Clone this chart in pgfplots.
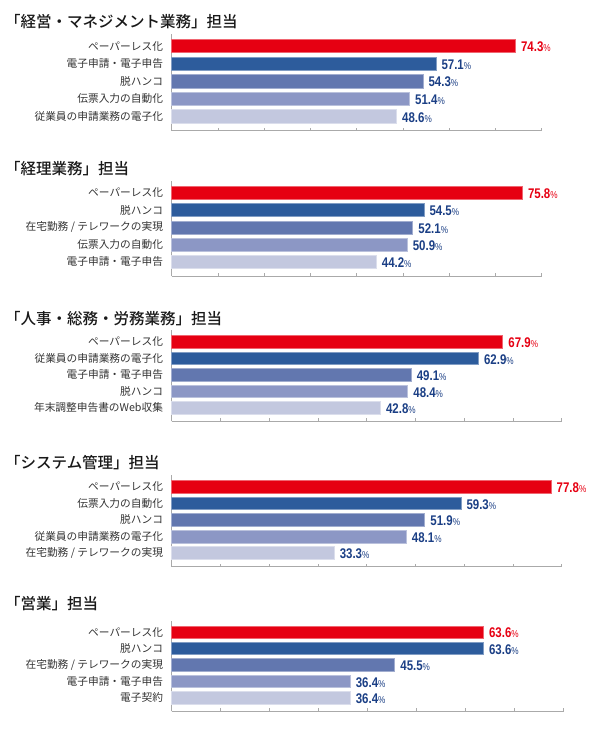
\documentclass[border=0pt]{standalone}
\usepackage{fontspec}
\usepackage{pgfplots}
\pgfplotsset{compat=1.18}
\newfontfamily\cjk{Noto Sans CJK JP}
\newfontfamily\cjkt{Noto Sans CJK JP Medium}
\newfontfamily\numfont[FakeStretch=0.82]{Liberation Sans}
\definecolor{cRed}{HTML}{E60012}
\definecolor{cB1}{HTML}{2D5C9C}
\definecolor{cB2}{HTML}{6277AF}
\definecolor{cB3}{HTML}{8C97C5}
\definecolor{cB4}{HTML}{C3C8DF}
\definecolor{cNavy}{HTML}{1B3F85}
\definecolor{cAx}{HTML}{AAAAAA}
\pgfplotsset{
  grp/.style={
    xbar, bar shift=0pt,
    scale only axis,
    xmin=0, xmax=80, ymin=0.18, ymax=5.7,
    axis x line*=bottom, axis y line*=left,
    axis line style={draw=cAx, line width=0.7pt},
    xtick={0,10,...,80}, xticklabels={},
    major tick length=3pt,
    xtick style={draw=cAx, line width=0.7pt},
    tick align=inside,
    ytick={1,2,3,4,5},
    ytick style={draw=none},
    yticklabel style={font=\cjk\fontsize{10.7}{12}\selectfont, text=black!80, inner sep=0pt, anchor=east, xshift=-8.5pt},
    anchor=south west,
    point meta=x,
    /pgf/number format/assume math mode=true,
    nodes near coords={\bfseries\pgfmathprintnumber[fixed,fixed zerofill,precision=1]{\pgfplotspointmeta}{\mdseries\fontsize{10}{10}\selectfont\%}},
    nodes near coords style={anchor=base west, font=\numfont\fontsize{14}{14}\selectfont, text=cNavy, inner sep=0pt, xshift=5.5pt, yshift=-5.8pt},
    clip=false,
  },
  b0/.style={fill=cRed, draw=cRed!60!white, line width=0.5pt, every node near coord/.append style={text=cRed}},
  b1/.style={fill=cB1, draw=cB1!60!white, line width=0.5pt},
  b2/.style={fill=cB2, draw=cB2!60!white, line width=0.5pt},
  b3/.style={fill=cB3, draw=cB3!60!white, line width=0.5pt},
  b4/.style={fill=cB4, draw=cB4!60!white, line width=0.5pt},
}
\begin{document}
\begin{tikzpicture}
\useasboundingbox (0pt,0pt) rectangle (600pt,-740pt);
\tikzset{ttl/.style={anchor=west, inner sep=0pt, font=\cjkt\fontsize{15.5}{16}\selectfont, text=black!90}}

% Group 1
\node[ttl] at (5pt,-22pt) {「経営・マネジメント業務」担当};
\begin{axis}[grp, at={(171.7pt,-130.7pt)}, width=370pt, height=97pt, bar width=13.3pt,
  yticklabels={従業員の申請業務の電子化, 伝票入力の自動化, 脱ハンコ, 電子申請・電子申告, ペーパーレス化}]
\addplot[b0] coordinates {(74.3,5)};
\addplot[b1] coordinates {(57.1,4)};
\addplot[b2] coordinates {(54.3,3)};
\addplot[b3] coordinates {(51.4,2)};
\addplot[b4] coordinates {(48.6,1)};
\end{axis}

% Group 2
\node[ttl] at (5pt,-169pt) {「経理業務」担当};
\begin{axis}[grp, at={(171.7pt,-276pt)}, width=370pt, height=95.4pt, bar width=13pt,
  yticklabels={電子申請・電子申告, 伝票入力の自動化, 在宅勤務 / テレワークの実現, 脱ハンコ, ペーパーレス化}]
\addplot[b0] coordinates {(75.8,5)};
\addplot[b1] coordinates {(54.5,4)};
\addplot[b2] coordinates {(52.1,3)};
\addplot[b3] coordinates {(50.9,2)};
\addplot[b4] coordinates {(44.2,1)};
\end{axis}

% Group 3
\node[ttl] at (5pt,-319pt) {「人事・総務・労務業務」担当};
\begin{axis}[grp, at={(171.7pt,-421.4pt)}, width=390pt, height=91.2pt, bar width=12.7pt,
  yticklabels={年末調整申告書のWeb収集, 脱ハンコ, 電子申請・電子申告, 従業員の申請業務の電子化, ペーパーレス化}]
\addplot[b0] coordinates {(67.9,5)};
\addplot[b1] coordinates {(62.9,4)};
\addplot[b2] coordinates {(49.1,3)};
\addplot[b3] coordinates {(48.4,2)};
\addplot[b4] coordinates {(42.8,1)};
\end{axis}

% Group 4
\node[ttl] at (5pt,-462.5pt) {「システム管理」担当};
\begin{axis}[grp, at={(171.7pt,-566.6pt)}, width=390pt, height=91.5pt, bar width=12.7pt,
  yticklabels={在宅勤務 / テレワークの実現, 従業員の申請業務の電子化, 脱ハンコ, 伝票入力の自動化, ペーパーレス化}]
\addplot[b0] coordinates {(77.8,5)};
\addplot[b1] coordinates {(59.3,4)};
\addplot[b2] coordinates {(51.9,3)};
\addplot[b3] coordinates {(48.1,2)};
\addplot[b4] coordinates {(33.3,1)};
\end{axis}

% Group 5
\node[ttl] at (5pt,-604pt) {「営業」担当};
\begin{axis}[grp, at={(171.7pt,-711.3pt)}, width=392pt, height=90.8pt, bar width=12.5pt,
  yticklabels={電子契約, 電子申請・電子申告, 在宅勤務 / テレワークの実現, 脱ハンコ, ペーパーレス化}]
\addplot[b0] coordinates {(63.6,5)};
\addplot[b1] coordinates {(63.6,4)};
\addplot[b2] coordinates {(45.5,3)};
\addplot[b3] coordinates {(36.4,2)};
\addplot[b4] coordinates {(36.4,1)};
\end{axis}
\end{tikzpicture}
\end{document}
